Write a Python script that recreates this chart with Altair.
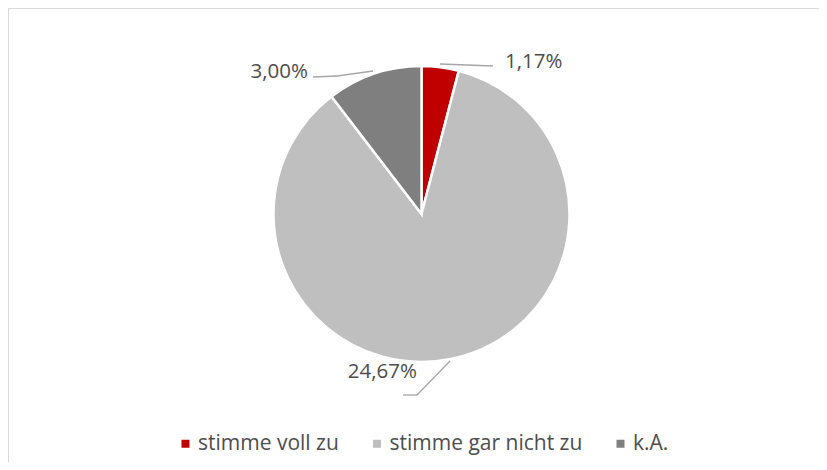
import altair as alt
import pandas as pd

categories = ["stimme voll zu", "stimme gar nicht zu", "k.A."]
values = [1.17, 24.67, 3.00]
colors = ["#C00000", "#BFBFBF", "#7F7F7F"]
labels = [f"{v:.2f}".replace(".", ",") + "%" for v in values]

df = pd.DataFrame({
    "cat": categories,
    "value": values,
    "idx": list(range(len(categories))),
    "label": labels,
})

FONT = "Open Sans"
TXT = "#4D4D4D"
LINE = "#A6A6A6"

border = alt.Chart(df).mark_rect(fill="white", stroke="#D9D9D9", strokeWidth=1).encode(
    x=alt.value(0.5), x2=alt.value(840), y=alt.value(0.5), y2=alt.value(480)
)

pie = alt.Chart(df).mark_arc(outerRadius=148, stroke="white", strokeWidth=2.5).encode(
    theta=alt.Theta("value:Q", stack=True),
    order=alt.Order("idx:Q"),
    color=alt.Color(
        "cat:N",
        scale=alt.Scale(domain=categories, range=colors),
        legend=alt.Legend(
            orient="none", legendX=167, legendY=425, direction="horizontal",
            title=None, symbolType="square", symbolSize=64, symbolStrokeWidth=0,
            labelFontSize=21, labelFont=FONT, labelColor=TXT, labelLimit=0,
            columnPadding=27.5, labelOffset=2, padding=0,
        ),
    ),
    x=alt.value(413.5),
    y=alt.value(206),
)

# percentage labels (annotation positions)
label_pos = {
    "stimme voll zu": dict(x=497, y=54, align="left"),
    "k.A.": dict(x=300, y=64, align="right"),
    "stimme gar nicht zu": dict(x=409, y=364, align="right"),
}
text_layers = []
for cat, p in label_pos.items():
    text_layers.append(
        alt.Chart(df).transform_filter(alt.datum.cat == cat).mark_text(
            font=FONT, fontSize=20.5, color=TXT, align=p["align"], baseline="middle"
        ).encode(text="label:N", x=alt.value(p["x"]), y=alt.value(p["y"]))
    )

# leader lines
segs = [
    (432, 56, 485, 58),
    (305, 69, 329, 68),
    (329, 68, 365, 63),
    (395, 387, 409, 387),
    (409, 387, 442, 353),
]
rule_layers = [
    alt.Chart(df.head(1)).mark_rule(color=LINE, strokeWidth=1.3).encode(
        x=alt.value(a), y=alt.value(b), x2=alt.value(c), y2=alt.value(d)
    )
    for a, b, c, d in segs
]

chart = alt.layer(border, pie, *rule_layers, *text_layers).properties(
    width=811, height=454,
    autosize=alt.AutoSizeParams(type="none"),
    padding=0,
    background="white",
).configure_view(stroke=None)

chart.save("out.html", embed_options={"renderer": "svg", "actions": False})
